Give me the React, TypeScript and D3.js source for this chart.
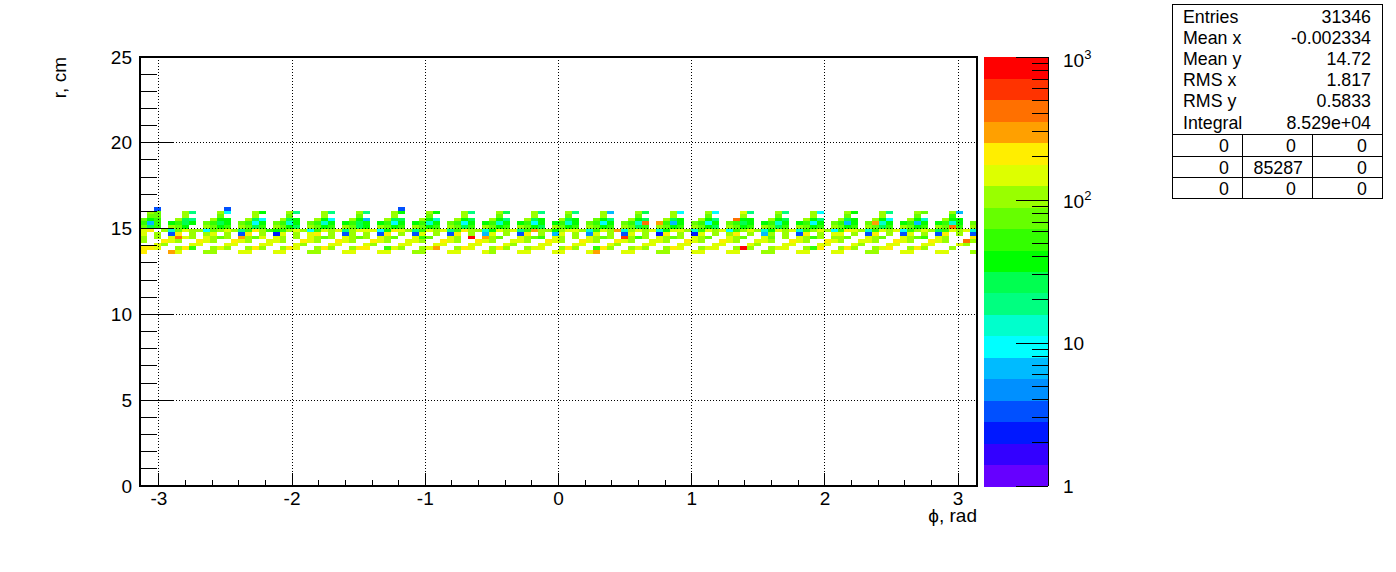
import React from "react";
import * as d3 from "d3";

// r-bin index of each row (bin width 25/120 cm), top to bottom
const rowBins = [77, 76, 75, 74, 73, 72, 71, 70, 69, 68, 67, 66, 65];

const counts77 = [
0,0,3,0,0, 0,0,0,0,0, 0,0,3,0,0, 0,0,0,0,0, 0,0,0,0,0, 0,0,0,0,0, 0,0,0,0,0, 0,0,3,0,0,
0,0,0,0,0, 0,0,0,0,0, 0,0,0,0,0, 0,0,0,0,0, 0,0,0,0,0, 0,0,0,0,0, 0,0,0,0,0, 0,0,0,0,0,
0,0,0,0,0, 0,0,0,0,0, 0,0,0,0,0, 0,0,0,0,0, 0,0,0,0,0, 0,0,0,0,0, 0,0,0,0,0, 0,0,0,0,0];
const counts76 = [
0,105,75,0,0, 0,105,19,0,0, 0,105,9,0,0, 0,105,38,0,0, 0,105,19,0,0, 0,105,19,0,0, 0,105,19,0,0, 0,105,38,0,0,
0,105,38,0,0, 0,105,19,0,0, 0,105,27,0,0, 0,105,19,0,0, 0,105,19,0,0, 0,105,7,0,0, 0,105,27,0,0, 0,105,9,0,0,
0,105,9,0,0, 0,150,19,0,0, 0,105,19,0,0, 0,105,9,0,0, 0,105,38,0,0, 0,105,19,0,0, 0,105,75,0,0, 0,105,7,0,0];
const counts75 = [
0,75,75,0,0, 0,105,0,0,0, 0,75,0,0,0, 0,105,0,0,0, 0,75,0,0,0, 0,105,0,0,0, 0,75,0,0,0, 0,105,0,0,0,
0,75,0,0,0, 0,105,0,0,0, 0,75,0,0,0, 0,105,0,0,0, 0,75,0,0,0, 0,105,0,0,0, 0,75,0,0,0, 0,105,0,0,0,
0,75,0,0,0, 0,105,0,0,0, 0,75,0,0,0, 0,105,0,0,0, 0,75,0,0,0, 0,105,0,0,0, 0,75,0,0,0, 0,53,0,0,0];
const counts74 = [
75,38,53,0,0, 105,27,19,0,0, 105,38,38,0,0, 105,27,9,0,0, 105,27,38,0,0, 105,38,9,0,0, 105,38,7,0,0, 105,27,27,0,0,
105,38,13,0,0, 105,38,27,0,0, 105,38,19,0,0, 105,27,38,0,0, 105,27,38,0,0, 75,38,19,0,0, 105,38,27,0,0, 105,27,38,0,0,
105,38,19,0,0, 420,38,38,0,0, 105,38,27,0,0, 105,38,19,0,0, 105,27,38,0,0, 105,38,9,0,0, 105,38,13,0,0, 105,38,38,0,0];
const counts73 = [
53,7,53,0,38, 53,27,38,0,75, 53,27,38,0,75, 53,9,38,0,75, 53,13,38,0,75, 53,13,38,0,38, 53,27,38,0,38, 53,9,38,0,38,
53,13,38,0,75, 53,9,38,0,38, 53,13,38,0,38, 53,9,38,0,38, 53,13,38,0,75, 53,9,38,0,75, 53,13,420,0,300, 53,7,38,0,75,
53,9,38,0,75, 53,27,38,0,38, 53,13,38,0,38, 53,9,38,0,75, 53,7,38,0,75, 300,13,38,0,38, 53,7,38,0,38, 53,13,38,0,75];
const counts72 = [
75,27,53,0,105, 75,38,0,0,105, 75,38,53,0,105, 75,27,53,0,105, 75,38,27,0,105, 75,38,53,0,105, 75,27,38,0,105, 75,38,53,0,105,
75,38,53,0,105, 75,27,53,0,105, 75,38,53,0,105, 75,38,27,0,105, 75,38,53,0,105, 75,38,53,0,105, 75,27,53,0,105, 75,38,53,0,105,
75,38,27,0,105, 75,38,53,0,105, 75,27,53,0,105, 75,38,53,0,105, 75,38,53,0,105, 75,27,53,0,105, 75,38,53,0,105, 75,420,53,0,105];
const counts71 = [
150,210,0,105,13, 75,150,105,105,9, 75,105,150,105,19, 53,210,105,53,38, 53,105,150,105,9, 53,150,105,150,19,
105,150,150,150,9, 38,210,150,105,19, 53,150,105,150,19, 53,210,105,105,13, 38,150,105,150,19, 53,300,105,105,38,
105,150,150,105,13, 53,150,105,300,13, 105,150,105,150,13, 38,150,150,105,13, 53,150,105,150,9, 53,105,150,105,13,
38,150,105,150,13, 53,105,150,105,9, 53,210,150,105,13, 53,150,105,150,9, 53,105,150,105,27, 53,150,105,150,13];
const counts70 = [
150,0,105,0,3, 210,0,105,0,105, 150,0,105,0,3, 210,0,105,0,2, 150,0,105,0,150, 210,0,105,0,3,
105,0,105,0,3, 210,0,105,0,3, 150,0,105,0,3, 210,0,105,0,7, 150,0,105,0,3, 210,0,105,0,7,
150,0,105,0,5, 150,0,105,0,3, 150,0,105,0,2, 210,0,105,0,2, 150,0,105,0,105, 210,0,105,0,7,
105,0,105,0,3, 210,0,105,0,150, 150,0,105,0,3, 210,0,105,0,3, 150,0,105,0,3, 210,0,105,0,3];
const counts69 = [
105,0,105,0,150, 420,150,105,0,150, 105,75,105,0,300, 105,75,150,0,150, 105,0,105,0,150, 105,75,105,0,150,
105,75,105,0,150, 105,75,0,0,150, 53,75,0,0,150, 105,0,840,0,300, 105,75,0,0,150, 105,75,53,0,150,
105,0,105,0,150, 105,75,105,0,600, 105,53,105,0,150, 105,75,105,0,150, 105,75,0,0,150, 105,75,0,0,150,
75,0,105,0,150, 105,53,105,0,105, 105,75,0,0,150, 105,75,0,0,150, 105,75,53,0,150, 105,0,0,0,210];
const counts68 = [
105,0,0,210,150, 105,0,0,210,150, 105,0,0,210,150, 105,0,0,150,150, 105,0,0,210,150, 105,0,0,210,150,
105,0,0,210,150, 105,0,0,150,150, 105,0,0,210,150, 105,0,0,210,150, 105,0,0,150,150, 105,0,0,210,150,
105,0,0,210,150, 105,0,0,210,150, 105,0,0,150,150, 105,0,0,210,150, 105,0,0,210,150, 105,0,0,150,150,
105,0,0,210,150, 105,0,0,210,150, 105,0,0,150,150, 105,0,0,210,150, 105,0,0,210,150, 105,0,0,420,105];
const counts67 = [
0,0,150,105,0, 0,0,150,150,0, 0,0,150,150,0, 0,0,150,150,0, 0,0,150,105,0, 0,0,150,150,0,
0,0,150,105,0, 0,0,150,150,0, 0,0,150,150,0, 0,0,150,150,0, 0,0,150,105,0, 0,0,150,150,0,
0,0,150,150,0, 0,0,150,105,0, 0,0,150,150,0, 0,0,150,150,0, 0,0,150,150,0, 0,0,150,105,0,
0,0,150,150,0, 0,0,150,150,0, 0,0,150,105,0, 0,0,150,150,0, 0,0,150,150,0, 0,0,150,105,0];
const counts66 = [
210,210,150,0,0, 105,210,53,0,0, 105,150,105,0,0, 105,210,105,0,0, 105,210,150,0,0, 105,210,105,0,0,
105,210,210,0,0, 53,150,105,0,0, 105,150,300,0,0, 105,210,150,0,0, 105,210,105,0,0, 105,150,150,0,0,
105,210,105,0,0, 53,210,105,0,0, 105,150,105,0,0, 105,210,150,0,0, 105,150,150,0,0, 105,840,105,0,0,
105,150,150,0,0, 105,53,210,0,0, 105,210,105,0,0, 105,150,210,0,0, 105,210,105,0,0, 0,105,0,0,0];
const counts65 = [
210,0,0,0,300, 150,0,0,0,105, 105,0,0,0,150, 150,0,0,0,150, 150,0,0,0,105, 105,0,0,0,150,
150,0,0,0,150, 150,0,0,0,105, 105,0,0,0,150, 150,0,0,0,150, 105,0,0,0,150, 150,0,0,0,150,
150,0,0,0,150, 300,0,0,0,150, 150,0,0,0,105, 105,0,0,0,150, 150,0,0,0,150, 150,0,0,0,105,
105,0,0,0,150, 150,0,0,0,150, 150,0,0,0,105, 105,0,0,0,150, 150,0,0,0,150, 150,0,0,0,105];

const rowCounts = [counts77, counts76, counts75, counts74, counts73, counts72, counts71, counts70, counts69, counts68, counts67, counts66, counts65];

const palette = ["#6600ff","#3300ff","#0018ff","#0050ff","#0090ff","#00bbff","#00ffff","#00ffcc","#00ff80","#00ff50","#00ff00","#33ff00","#66ff00","#99ff00","#ddff00","#ffee00","#ffa000","#ff7000","#ff3300","#ff0000"];

const xMajor = [-3, -2, -1, 0, 1, 2, 3];
const yMajor = [0, 5, 10, 15, 20, 25];
const statLabels = ["Entries", "Mean x", "Mean y", "RMS x", "RMS y", "Integral"];
const statValues = ["31346", "-0.002334", "14.72", "1.817", "0.5833", "8.529e+04"];
const overflowRows = [["0", "0", "0"], ["0", "85287", "0"], ["0", "0", "0"]];
const nBins = 120;

const W = 1396, H = 572;
const L = 140, R = 977, T = 57, B = 486;
const font = "'Liberation Sans', Arial, sans-serif";

export default function App() {
  const x = d3.scaleLinear().domain([-Math.PI, Math.PI]).range([L, R]);
  const y = d3.scaleLinear().domain([0, 25]).range([B, T]);
  const z = d3.scaleLog().domain([1, 1000]).range([B, T]);
  const level = d3.scaleQuantize<string>().domain([0, 3]).range(palette);
  const xBin = d3.scaleBand<number>().domain(d3.range(nBins)).range([L, R]);
  const yBin = d3.scaleBand<number>().domain(d3.range(nBins)).range([B, T]);

  const xMinor = d3.range(-3.2, 3.21, 0.2).map(v => +v.toFixed(1)).filter(v => Math.abs(v) <= Math.PI && !xMajor.includes(v));
  const yMinor = d3.range(0, 25.01, 1).filter(v => v % 5 !== 0);
  const zMajor = [1, 10, 100, 1000];
  const zMinor = [1, 10, 100].flatMap(d => d3.range(2, 10).map(m => m * d));
  const cbX0 = 984, cbX1 = 1048;
  const bandH = (B - T) / palette.length;

  return (
    <svg width={W} height={H} viewBox={`0 0 ${W} ${H}`} style={{ position: "fixed", left: 0, top: 0, background: "#fff" }} fontFamily={font} fill="#000">
      <g shapeRendering="crispEdges">
        {rowCounts.map((row, ri) =>
          row.map((c, ci) =>
            c > 0 ? (
              <rect key={`${ri}-${ci}`} x={xBin(ci)} y={yBin(rowBins[ri])} width={xBin.bandwidth()} height={yBin.bandwidth()} fill={level(Math.log10(c))} />
            ) : null
          )
        )}
      </g>
      <g stroke="#000" strokeWidth={1} strokeDasharray="1,2" shapeRendering="crispEdges">
        {xMajor.map(v => <line key={v} x1={x(v)} x2={x(v)} y1={T} y2={B} />)}
        {yMajor.slice(1, -1).map(v => <line key={v} x1={L} x2={R} y1={y(v)} y2={y(v)} />)}
      </g>
      <g stroke="#000" strokeWidth={1} shapeRendering="crispEdges">
        {xMajor.map(v => <line key={v} x1={x(v)} x2={x(v)} y1={B} y2={B - 13} />)}
        {xMinor.map(v => <line key={v} x1={x(v)} x2={x(v)} y1={B} y2={B - 6} />)}
        {yMajor.map(v => <line key={v} x1={L} x2={L + 33} y1={y(v)} y2={y(v)} />)}
        {yMinor.map(v => <line key={v} x1={L} x2={L + 17} y1={y(v)} y2={y(v)} />)}
      </g>
      <rect x={L} y={T} width={R - L} height={B - T} fill="none" stroke="#000" strokeWidth={2} shapeRendering="crispEdges" />

      <g fontSize={19}>
        {xMajor.map(v => <text key={v} x={x(v)} y={505} textAnchor="middle">{v}</text>)}
        {yMajor.map(v => <text key={v} x={132} y={y(v) + 6.5} textAnchor="end">{v}</text>)}
        <text x={977} y={522} textAnchor="end">ϕ, rad</text>
        <text transform={`translate(66,57) rotate(-90)`} textAnchor="end">r, cm</text>
      </g>

      <g shapeRendering="crispEdges">
        {palette.map((c, i) => <rect key={c} x={cbX0} y={B - (i + 1) * bandH} width={cbX1 - cbX0} height={bandH + 0.5} fill={c} />)}
      </g>
      <g stroke="#000" strokeWidth={1} shapeRendering="crispEdges">
        <line x1={cbX1} x2={cbX1} y1={T} y2={B} />
        {zMajor.map(v => <line key={v} x1={cbX1} x2={cbX1 - 32} y1={z(v)} y2={z(v)} />)}
        {zMinor.map(v => <line key={v} x1={cbX1} x2={cbX1 - 16} y1={z(v)} y2={z(v)} />)}
      </g>
      <g fontSize={19}>
        <text x={1063} y={492.5}>1</text>
        <text x={1063} y={z(10) + 6.5}>10</text>
        <text x={1063} y={z(100) + 8}>10<tspan fontSize={13} dy={-8}>2</tspan></text>
        <text x={1063} y={z(1000) + 10}>10<tspan fontSize={13} dy={-8}>3</tspan></text>
      </g>

      <rect x={1172.5} y={4.5} width={209.5} height={194} fill="#fff" stroke="#000" strokeWidth={1} shapeRendering="crispEdges" />
      <g stroke="#000" strokeWidth={1} shapeRendering="crispEdges">
        {[134, 156, 177].map(v => <line key={v} x1={1172.5} x2={1382} y1={v + 0.5} y2={v + 0.5} />)}
        {[1242.5, 1312.5].map(v => <line key={v} x1={v} x2={v} y1={134} y2={198.5} />)}
      </g>
      <g fontSize={17.8}>
        {statLabels.map((s, i) => <text key={s} x={1183} y={23 + i * 21.1}>{s}</text>)}
        {statValues.map((s, i) => <text key={s} x={1371} y={23 + i * 21.1} textAnchor="end">{s}</text>)}
        {overflowRows.map((row, i) => row.map((s, j) => (
          <text key={`${i}-${j}`} x={[1229, i === 1 ? 1303 : 1296, 1367][j]} y={152 + i * 21.7} textAnchor="end">{s}</text>
        )))}
      </g>
    </svg>
  );
}
